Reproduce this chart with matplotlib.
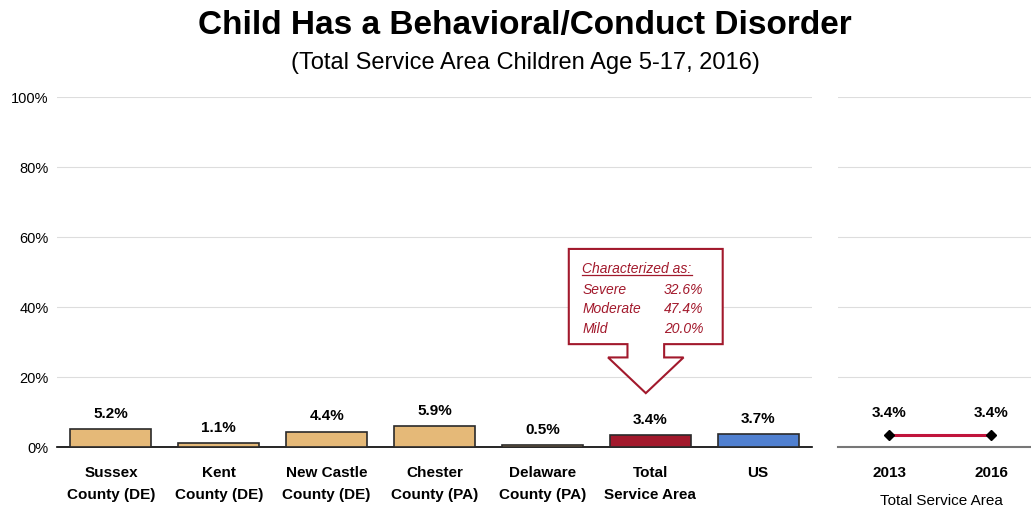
import matplotlib.pyplot as plt
from matplotlib.patches import Polygon

categories = ["Sussex\nCounty (DE)", "Kent\nCounty (DE)", "New Castle\nCounty (DE)",
              "Chester\nCounty (PA)", "Delaware\nCounty (PA)", "Total\nService Area", "US"]
values = [5.2, 1.1, 4.4, 5.9, 0.5, 3.4, 3.7]
bar_colors = ["#E5B978"] * 5 + ["#A2192C", "#5080D0"]

years = ["2013", "2016"]
trend = [3.4, 3.4]

severity = ["Severe", "Moderate", "Mild"]
severity_pct = ["32.6%", "47.4%", "20.0%"]

narrow = ["Liberation Sans Narrow", "Liberation Sans", "DejaVu Sans"]
regular = ["Liberation Sans", "DejaVu Sans"]
callout_red = "#A2192C"

fig = plt.figure(figsize=(10.31, 5.08), dpi=100)
fig.text(0.5095, 0.949, "Child Has a Behavioral/Conduct Disorder", ha="center", va="center",
         fontsize=24, fontweight="bold", family=regular)
fig.text(0.5095, 0.876, "(Total Service Area Children Age 5-17, 2016)", ha="center", va="center",
         fontsize=17, family=regular)

ax = fig.add_axes([0.0553, 0.120, 0.7323, 0.689])
x = range(len(categories))
ax.bar(x, values, width=0.75, color=bar_colors, edgecolor="#2a2a2a", linewidth=1.2, zorder=3)
for xi, v in zip(x, values):
    ax.annotate(f"{v:.1f}%", (xi, v), xytext=(0, 6), textcoords="offset points",
                ha="center", va="bottom", fontsize=11, fontweight="bold", family=narrow)
ax.set_xlim(-0.5, len(categories) - 0.5)
ax.set_ylim(0, 100)
ax.set_yticks(range(0, 101, 20))
ax.set_yticklabels([f"{t}%" for t in range(0, 101, 20)], family=narrow, fontsize=10.5)
ax.set_xticks(list(x))
ax.set_xticklabels(categories, family=narrow, fontsize=11, fontweight="bold", linespacing=1.75)
ax.tick_params(axis="both", length=0)
ax.tick_params(axis="x", pad=13.5)
ax.tick_params(axis="y", pad=6)
ax.grid(axis="y", color="#dddddd", linewidth=0.8, zorder=0)
for s in ["top", "right", "left"]:
    ax.spines[s].set_visible(False)
ax.spines["bottom"].set_color("black")
ax.spines["bottom"].set_linewidth(1.2)

# callout box with down arrow
cx = 4.959
box = [(4.245, 56.6), (5.672, 56.6), (5.672, 29.4), (cx + 0.17, 29.4), (cx + 0.17, 25.6),
       (cx + 0.35, 25.6), (cx, 15.4), (cx - 0.35, 25.6), (cx - 0.17, 25.6), (cx - 0.17, 29.4),
       (4.245, 29.4)]
ax.add_patch(Polygon(box, closed=True, facecolor="white", edgecolor=callout_red,
                     linewidth=1.5, zorder=4))
head = ax.text(4.37, 51.0, "Characterized as:", color=callout_red, fontsize=10,
               style="italic", family=narrow, va="center", zorder=5)
for i, (lab, pct) in enumerate(zip(severity, severity_pct)):
    yy = 45.0 - i * 5.7
    ax.text(4.37, yy, lab, color=callout_red, fontsize=10, style="italic",
            family=narrow, va="center", zorder=5)
    ax.text(5.49, yy, pct, color=callout_red, fontsize=10, style="italic",
            family=narrow, va="center", ha="right", zorder=5)
fig.canvas.draw()
bb = head.get_window_extent().transformed(ax.transData.inverted())
ax.plot([bb.x0, bb.x1], [bb.y0 + 0.2, bb.y0 + 0.2], color=callout_red, linewidth=0.9, zorder=5)

# trend panel
ax2 = fig.add_axes([0.8128, 0.120, 0.187, 0.689])
ax2.plot(range(len(years)), trend, color="#C0143C", linewidth=2.2, marker="D",
         markersize=5, markerfacecolor="black", markeredgecolor="black", zorder=3)
for xi, v in enumerate(trend):
    ax2.annotate(f"{v:.1f}%", (xi, v), xytext=(0, 11), textcoords="offset points",
                 ha="center", va="bottom", fontsize=11, fontweight="bold", family=narrow)
ax2.set_xlim(-0.5, 1.39)
ax2.set_ylim(0, 100)
ax2.set_yticks(range(0, 101, 20))
ax2.set_yticklabels([])
ax2.set_xticks(range(len(years)))
ax2.set_xticklabels(years, family=narrow, fontsize=11, fontweight="bold")
ax2.tick_params(axis="both", length=0)
ax2.tick_params(axis="x", pad=13.5)
ax2.set_xlabel("Total Service Area", family=narrow, fontsize=11)
ax2.xaxis.set_label_coords(0.534, -0.135)
ax2.grid(axis="y", color="#dddddd", linewidth=0.8, zorder=0)
for s in ["top", "right", "left"]:
    ax2.spines[s].set_visible(False)
ax2.spines["bottom"].set_color("#777777")
ax2.spines["bottom"].set_linewidth(1.5)

fig.savefig("out.png", dpi=100)
